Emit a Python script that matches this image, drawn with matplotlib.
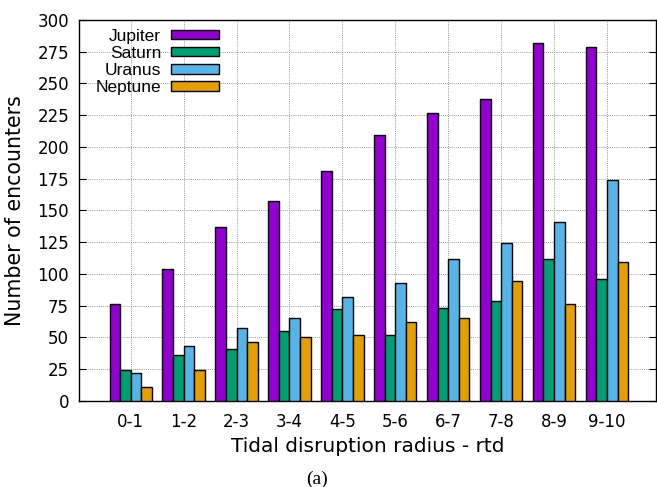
import matplotlib
matplotlib.use("Agg")
import matplotlib.pyplot as plt
import numpy as np


bins = ["0-1", "1-2", "2-3", "3-4", "4-5", "5-6", "6-7", "7-8", "8-9", "9-10"]
jupiter = [76, 104, 137, 157, 181, 209, 227, 238, 282, 279]
saturn = [24, 36, 41, 55, 72, 52, 73, 79, 112, 96]
uranus = [22, 43, 57, 65, 82, 93, 112, 124, 141, 174]
neptune = [11, 24, 46, 50, 52, 62, 65, 94, 76, 109]

planets = ["Jupiter", "Saturn", "Uranus", "Neptune"]
colors = ["#9400d3", "#009e73", "#56b4e9", "#e69f00"]


def main():
    fig = plt.figure(figsize=(6.57, 4.87), dpi=100)
    ax = fig.add_axes([0.120, 0.177, 0.878, 0.782])

    x = np.arange(len(bins))
    width = 0.2
    series = [jupiter, saturn, uranus, neptune]
    for i, (vals, name, col) in enumerate(zip(series, planets, colors)):
        ax.bar(x + (i - 1.5) * width, vals, width, color=col, edgecolor="black",
               linewidth=1.0, label=name, zorder=3)

    ax.set_xlim(-0.98, 9.92)
    ax.set_ylim(0, 300)
    ax.set_yticks(np.arange(0, 301, 25))
    ax.set_xticks(x)
    ax.set_xticklabels(bins)
    ax.tick_params(axis="x", length=0, labelsize=12, pad=9)
    ax.tick_params(axis="y", direction="in", length=5, labelsize=12,
                   right=True, pad=7)
    ax.grid(True, color="#999999", linestyle=(0, (1, 1.2)), linewidth=0.7,
            zorder=0)

    for side in ax.spines.values():
        side.set_linewidth(1.0)

    ax.set_xlabel("Tidal disruption radius - rtd", fontsize=14.5, labelpad=4)
    ax.set_ylabel("Number of encounters", fontsize=14.8, labelpad=9)

    leg = ax.legend(loc="upper left", markerfirst=False, frameon=False,
                    prop={"family": "Liberation Sans", "size": 12.5},
                    handlelength=2.75, handleheight=0.46, handletextpad=0.57,
                    labelspacing=0.12, borderpad=0.4, borderaxespad=0,
                    bbox_to_anchor=(0.017, 0.995))
    for t in leg.get_texts():
        t.set_ha("right")

    fig.text(0.482, 0.016, "(a)", family="Liberation Serif", fontsize=14,
             ha="center", va="center")

    fig.savefig("out.png", dpi=100)


if __name__ == '__main__':
    main()
